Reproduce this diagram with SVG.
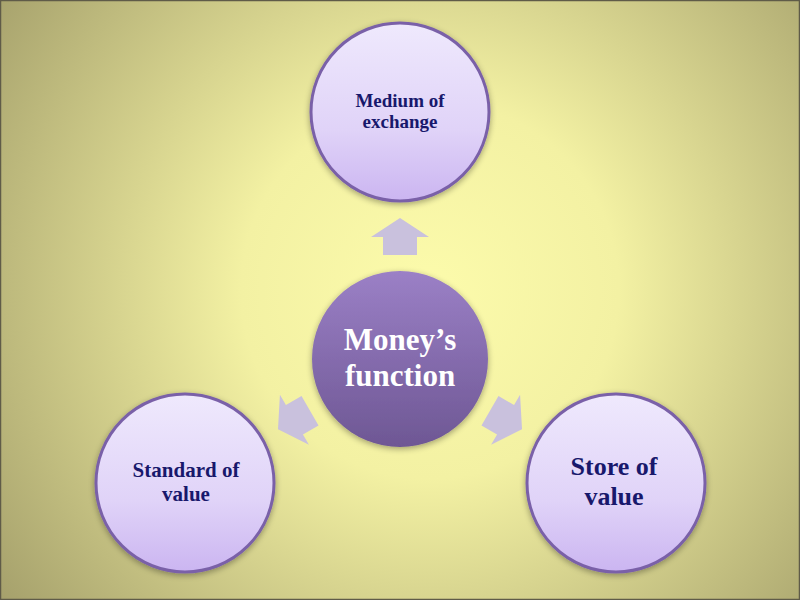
<svg xmlns="http://www.w3.org/2000/svg" width="800" height="600" viewBox="0 0 800 600">
  <defs>
    <radialGradient id="bg" gradientUnits="userSpaceOnUse" cx="430" cy="290" r="540">
      <stop offset="0" stop-color="#fcfbab"/>
      <stop offset="0.35" stop-color="#f3f1a3"/>
      <stop offset="1" stop-color="#a39e6a"/>
    </radialGradient>
    <linearGradient id="outerFill" x1="0" y1="0" x2="0" y2="1">
      <stop offset="0" stop-color="#efe9fd"/>
      <stop offset="0.6" stop-color="#e0d3f8"/>
      <stop offset="1" stop-color="#cbb5f1"/>
    </linearGradient>
    <linearGradient id="centerFill" x1="0" y1="0" x2="0" y2="1">
      <stop offset="0" stop-color="#9b80c6"/>
      <stop offset="1" stop-color="#6e5794"/>
    </linearGradient>
    <filter id="shadow" x="-20%" y="-20%" width="140%" height="140%">
      <feGaussianBlur in="SourceAlpha" stdDeviation="3"/>
      <feOffset dx="0" dy="2" result="b"/>
      <feComponentTransfer><feFuncA type="linear" slope="0.35"/></feComponentTransfer>
      <feMerge><feMergeNode/><feMergeNode in="SourceGraphic"/></feMerge>
    </filter>
    <path id="arrowShape" d="M0,-18.5 L29,0.5 L17,0.5 L17,18.5 L-17,18.5 L-17,0.5 L-29,0.5 Z"/>
  </defs>
  <style>
    .outer { fill: url(#outerFill); stroke: #7a61a8; stroke-width: 3; }
    .center { fill: url(#centerFill); }
    .lbl { font-family: "Liberation Serif", "Times New Roman", serif; font-weight: bold; fill: #18186c; text-anchor: middle; }
    .clbl { font-family: "Liberation Serif", "Times New Roman", serif; font-weight: bold; fill: #ffffff; text-anchor: middle; font-size: 31px; }
    .arrow { fill: #c9c1dd; }
  </style>

  <rect x="0" y="0" width="800" height="600" fill="url(#bg)"/>
  <rect x="0.5" y="0.5" width="799" height="599" fill="none" stroke="#5f5b48" stroke-width="1.5"/>

  <g id="connectors">
    <use href="#arrowShape" class="arrow" transform="translate(400,236.5)"/>
    <use href="#arrowShape" class="arrow" transform="translate(294,420) rotate(-120)"/>
    <use href="#arrowShape" class="arrow" transform="translate(506,420) rotate(120)"/>
  </g>

  <g id="node-center">
    <circle class="center" cx="400" cy="359" r="88" filter="url(#shadow)"/>
    <text class="clbl" x="400" y="350">Money’s</text>
    <text class="clbl" x="400" y="386">function</text>
  </g>

  <g id="node-medium">
    <circle class="outer" cx="400" cy="112" r="89" filter="url(#shadow)"/>
    <text class="lbl" x="400" y="107" font-size="19">Medium of</text>
    <text class="lbl" x="400" y="128" font-size="19">exchange</text>
  </g>

  <g id="node-standard">
    <circle class="outer" cx="185" cy="483" r="89" filter="url(#shadow)"/>
    <text class="lbl" x="186" y="477" font-size="21">Standard of</text>
    <text class="lbl" x="186" y="501" font-size="21">value</text>
  </g>

  <g id="node-store">
    <circle class="outer" cx="616" cy="483" r="89" filter="url(#shadow)"/>
    <text class="lbl" x="614" y="475" font-size="26">Store of</text>
    <text class="lbl" x="614" y="505" font-size="26">value</text>
  </g>
</svg>
